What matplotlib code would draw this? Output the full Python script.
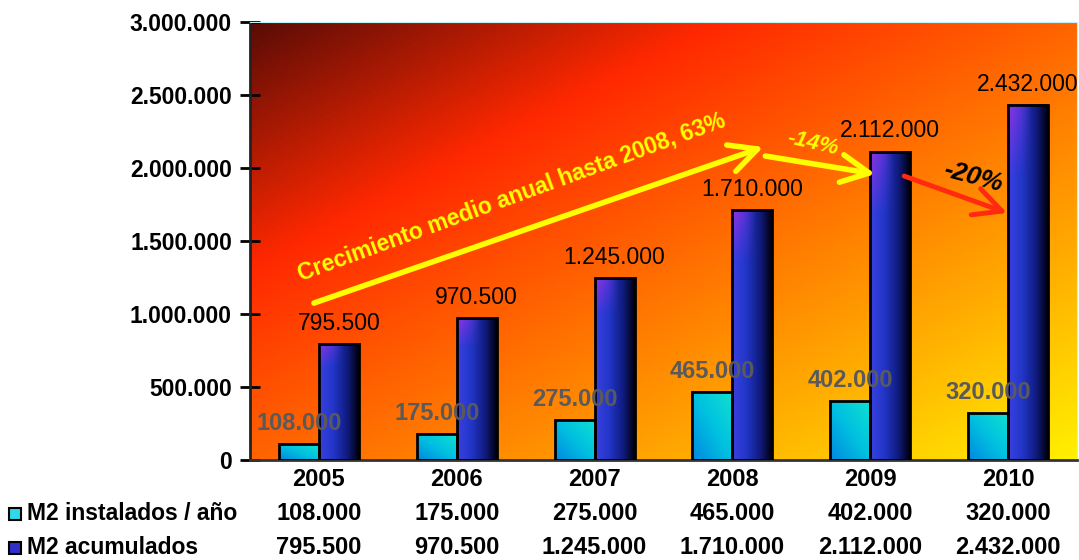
import numpy as np
import matplotlib
matplotlib.use('Agg')
import matplotlib.pyplot as plt
from matplotlib.colors import LinearSegmentedColormap, to_rgb
from matplotlib.patches import Rectangle
from matplotlib.ticker import FuncFormatter, MultipleLocator
from matplotlib.transforms import blended_transform_factory

plt.rcParams['font.family'] = ['Liberation Sans', 'DejaVu Sans']

#%% data
years = ['2005', '2006', '2007', '2008', '2009', '2010']
instalados = [108000, 175000, 275000, 465000, 402000, 320000]
acumulados = [795500, 970500, 1245000, 1710000, 2112000, 2432000]
row_names = ['M2 instalados / año', 'M2 acumulados']

def fmt(v):
    return f'{int(v):,}'.replace(',', '.')

#%% figure
fig = plt.figure(figsize=(10.79, 5.6), dpi=100)
ax = fig.add_axes([250/1079, 1-460/560, 827/1079, 438/560])

# background gradient (diagonal)
bg = LinearSegmentedColormap.from_list('bg', [(0, '#5a0c06'), (0.28, '#ff2800'),
                                              (0.5, '#ff6400'), (0.75, '#ffa800'),
                                              (1, '#fff000')])
uu, vv = np.meshgrid(np.linspace(0, 1, 300), np.linspace(0, 1, 200))
ax.imshow((uu + (1-vv))/2, cmap=bg, extent=[0, 1, 0, 1], origin='lower',
          transform=ax.transAxes, aspect='auto', zorder=0, vmin=0, vmax=1)

x = np.arange(len(years))
w = 0.29
b1 = ax.bar(x - w/2, instalados, w, facecolor='none', edgecolor='black', lw=2, zorder=3)
b2 = ax.bar(x + w/2, acumulados, w, facecolor='none', edgecolor='black', lw=2, zorder=3)

# gradient fills for bars
cy = LinearSegmentedColormap.from_list('cy', ['#0088e0', '#00c0e0', '#10e0d0'])
def blue_img(H=200, W=50):
    u, v = np.meshgrid(np.linspace(0, 1, W), np.linspace(0, 1, H))
    stops = [(0, '#3a40e0'), (0.35, '#2236c8'), (0.7, '#101c80'), (1, '#000010')]
    base = np.zeros((H, W, 3))
    for c in range(3):
        base[..., c] = np.interp(u, [s[0] for s in stops], [to_rgb(s[1])[c] for s in stops])
    wgt = (np.clip((v - 0.8)/0.2, 0, 1) * np.clip(1 - u/0.6, 0, 1))[..., None]
    return base*(1-wgt) + np.array(to_rgb('#9030e0'))*wgt

for p in b1:
    x0, y0 = p.get_x(), p.get_y()
    u, v = np.meshgrid(np.linspace(0, 1, 50), np.linspace(0, 1, 100))
    ax.imshow((u + v)/2, cmap=cy, extent=[x0, x0+p.get_width(), y0, y0+p.get_height()],
              origin='lower', aspect='auto', zorder=2, vmin=0, vmax=1)
for p in b2:
    x0, y0 = p.get_x(), p.get_y()
    ax.imshow(blue_img(), extent=[x0, x0+p.get_width(), y0, y0+p.get_height()],
              origin='lower', aspect='auto', zorder=2)

# value labels
for xi, v in zip(x, instalados):
    ax.annotate(fmt(v), (xi - w/2, v), xytext=(0, 15), textcoords='offset points',
                ha='center', va='center', fontsize=17, fontweight='bold', color='#5a5a5a', zorder=5)
for xi, v in zip(x, acumulados):
    ax.annotate(fmt(v), (xi + w/2, v), xytext=(0, 15), textcoords='offset points',
                ha='center', va='center', fontsize=16.5, color='black', zorder=5)

# growth arrows and notes
arr = '->,head_length=1.0,head_width=0.5'
ax.annotate('', xy=(3.225, 2.144e6), xytext=(-0.036, 1.075e6),
            arrowprops=dict(arrowstyle=arr, color='#ffff00',
                            lw=4, mutation_scale=20, shrinkA=0, shrinkB=0), zorder=6)
ax.annotate('', xy=(4.036, 1.959e6), xytext=(3.239, 2.082e6),
            arrowprops=dict(arrowstyle=arr, color='#ffff00',
                            lw=4, mutation_scale=20, shrinkA=0, shrinkB=0), zorder=6)
ax.annotate('', xy=(4.993, 1.692e6), xytext=(4.246, 1.945e6),
            arrowprops=dict(arrowstyle=arr, color='#ff2a10',
                            lw=3.5, mutation_scale=20, shrinkA=0, shrinkB=0), zorder=6)
ax.text(1.40, 1.80e6, 'Crecimiento medio anual hasta 2008, 63%', rotation=20,
        rotation_mode='anchor', ha='center', va='center', fontsize=16.5,
        fontweight='bold', color='#ffff00', zorder=6)
ax.text(3.587, 2.171e6, '-14%', rotation=-13, rotation_mode='anchor', ha='center',
        va='center', fontsize=16, fontweight='bold', style='italic', color='#ffff00', zorder=6)
ax.text(4.746, 1.938e6, '-20%', rotation=-15, rotation_mode='anchor', ha='center',
        va='center', fontsize=18.5, fontweight='bold', style='italic', color='black', zorder=6)

#%% axes styling
ax.set_xlim(-0.5, 5.5)
ax.set_ylim(0, 3000000)
ax.yaxis.set_major_locator(MultipleLocator(500000))
ax.yaxis.set_major_formatter(FuncFormatter(lambda v, p: fmt(v)))
ax.tick_params(axis='y', direction='inout', length=14, width=2, pad=6, labelsize=16.5)
for t in ax.get_yticklabels():
    t.set_fontweight('bold')
ax.set_xticks([])
ax.spines['left'].set_linewidth(2)
ax.spines['left'].set_color('#222222')
ax.spines['bottom'].set_linewidth(2)
ax.spines['bottom'].set_color('#333333')
ax.spines['top'].set_color('#bff3f5')
ax.spines['right'].set_color('#bff3f5')

#%% data table under the chart
tr = blended_transform_factory(ax.transData, fig.transFigure)
row_y = [1-480/560, 1-514/560, 1-548/560]
for xi, yr, a, b in zip(x, years, instalados, acumulados):
    ax.text(xi, row_y[0], yr, transform=tr, ha='center', va='center', fontsize=17, fontweight='bold')
    ax.text(xi, row_y[1], fmt(a), transform=tr, ha='center', va='center', fontsize=17, fontweight='bold')
    ax.text(xi, row_y[2], fmt(b), transform=tr, ha='center', va='center', fontsize=17, fontweight='bold')
key_cols = ['#30d8ec', '#3030c8']
for name, yy, kc in zip(row_names, row_y[1:], key_cols):
    fig.add_artist(Rectangle((9/1079, yy - 6/560), 12/1079, 12/560, facecolor=kc,
                             edgecolor='black', lw=1.5, transform=fig.transFigure))
    fig.text(27/1079, yy, name, ha='left', va='center', fontsize=16.5, fontweight='bold')

fig.savefig('out.png', dpi=100)
